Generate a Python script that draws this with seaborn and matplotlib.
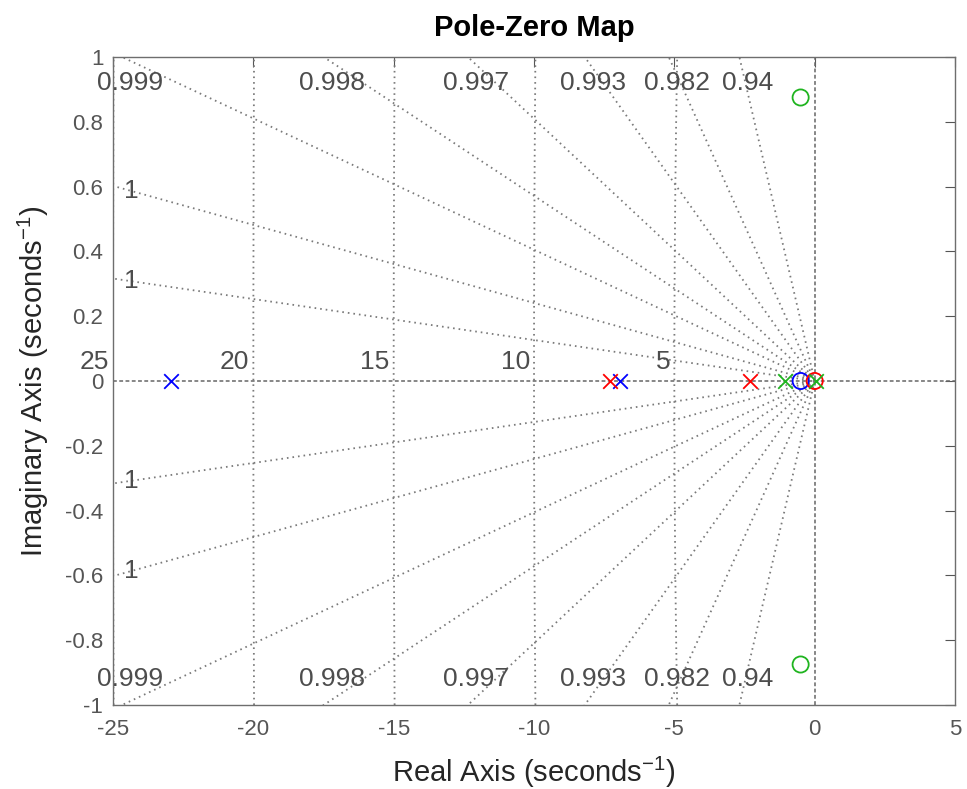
import numpy as np
import pandas as pd
import matplotlib
matplotlib.use('Agg')
import matplotlib.pyplot as plt
import seaborn as sns

# poles / zeros of the three systems (real, imag)
blue_pole_re = [-22.95, -6.95]
blue_pole_im = [0.0, 0.0]
blue_zero_re = [-0.5]
blue_zero_im = [0.0]

red_pole_re = [-7.3, -2.3]
red_pole_im = [0.0, 0.0]
red_zero_re = [0.0]
red_zero_im = [0.0]

green_pole_re = [-1.05, 0.05]
green_pole_im = [0.0, 0.0]
green_zero_re = [-0.5, -0.5]
green_zero_im = [0.875, -0.875]

# sgrid: damping ratios and natural frequencies
zeta_vals = [0.99992, 0.99971, 0.99918, 0.99837, 0.99674, 0.99263, 0.982, 0.937]
zeta_labels = ['1', '1', '0.999', '0.998', '0.997', '0.993', '0.982', '0.94']
wn_vals = [5, 10, 15, 20, 25]
wn_labels = ['5', '10', '15', '20', '25']

x_ticks = [-25, -20, -15, -10, -5, 0, 5]
y_ticks = [-1, -0.8, -0.6, -0.4, -0.2, 0, 0.2, 0.4, 0.6, 0.8, 1]

sns.set_style('white')
plt.rcParams['font.family'] = ['Liberation Sans', 'DejaVu Sans']
plt.rcParams['axes.unicode_minus'] = False
plt.rcParams['mathtext.fontset'] = 'custom'
plt.rcParams['mathtext.rm'] = 'Liberation Sans'
plt.rcParams['mathtext.default'] = 'regular'

fig = plt.figure(figsize=(9.67, 7.89), dpi=100)
ax = fig.add_axes([113 / 967, 1 - 705 / 789, 842 / 967, 648 / 789])
ax.set_xlim(-25, 5)
ax.set_ylim(-1, 1)

grid_kw = dict(color='#7a7a7a', lw=1.3, ls=(0, (0.9, 2.2)), zorder=1)
label_kw = dict(color='#4d4d4d', fontsize=19, clip_on=False, zorder=2)

# damping-ratio rays from the origin
for z, lab in zip(zeta_vals, zeta_labels):
    slope = np.tan(np.arccos(z))
    for sgn in (1, -1):
        ax.plot([0, -40], [0, sgn * 40 * slope], **grid_kw)
        x_top = -1 / slope
        if x_top > -25:
            ax.text(x_top + 0.3, sgn * 0.92, lab, ha='center', va='center', **label_kw)
        else:
            ax.text(-24.35, sgn * 24.35 * slope, lab, ha='center', va='center', **label_kw)

# natural-frequency semicircles
yy = np.linspace(-1, 1, 200)
for wn, lab in zip(wn_vals, wn_labels):
    ax.plot(-np.sqrt(wn ** 2 - yy ** 2), yy, **grid_kw)
    ax.text(-wn - 0.15, 0.06, lab, ha='right', va='center', **label_kw)

# real and imaginary axes
axis_kw = dict(color='#666666', lw=1.1, ls=(0, (2.5, 1.6)), zorder=1)
ax.plot([-25, 5], [0, 0], **axis_kw)
ax.plot([0, 0], [-1, 1], **axis_kw)

# poles (x) and zeros (o)
groups = [
    ('#0000ff', blue_pole_re, blue_pole_im, blue_zero_re, blue_zero_im),
    ('#ff0000', red_pole_re, red_pole_im, red_zero_re, red_zero_im),
    ('#1fb41f', green_pole_re, green_pole_im, green_zero_re, green_zero_im),
]
for c, pr, pi_, zr, zi in groups:
    sns.scatterplot(x=pr, y=pi_, marker='x', s=110, color=c, linewidth=1.3, ax=ax, zorder=3)
    sns.scatterplot(x=zr, y=zi, marker='o', s=135, facecolor='none', edgecolor=c,
                    linewidth=1.3, ax=ax, zorder=3)

ax.set_xticks(x_ticks)
ax.set_yticks(y_ticks)
ax.set_xticklabels([str(v) for v in x_ticks])
ax.set_yticklabels(['%g' % v for v in y_ticks])
ax.tick_params(direction='in', top=True, right=True, length=7, width=0.8,
               color='#555555', labelcolor='#555555', labelsize=16)
ax.tick_params(axis='x', pad=10)
ax.tick_params(axis='y', pad=7)
for sp in ax.spines.values():
    sp.set_color('#6e6e6e')
    sp.set_linewidth(1.0)

ax.set_xlabel('Real Axis (seconds$^{-1}$)', fontsize=21, color='#262626')
ax.set_ylabel('Imaginary Axis (seconds$^{-1}$)', fontsize=21, color='#262626')
ax.xaxis.set_label_coords(0.5, -0.077)
ax.yaxis.set_label_coords(-0.074, 0.5)
ax.set_title('Pole-Zero Map', fontsize=21, fontweight='bold', color='black',
             y=1.045, va='center', pad=0)

fig.savefig('out.png', dpi=100)
